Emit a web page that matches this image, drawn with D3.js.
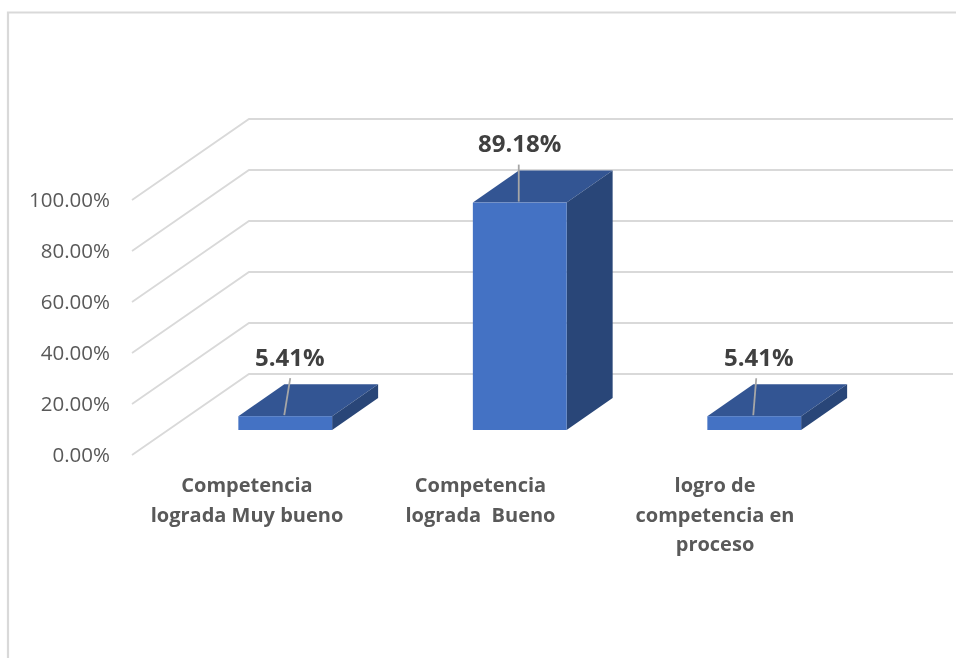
<!DOCTYPE html>
<html><head><meta charset="utf-8">
<style>html,body{margin:0;padding:0;background:#fff;overflow:hidden}svg{display:block;filter:blur(0.35px)}</style>
<script src="https://cdn.jsdelivr.net/npm/d3@7"></script></head>
<body><script>
const categories=[["Competencia","lograda Muy bueno"],["Competencia","lograda  Bueno"],["logro de","competencia en","proceso"]];
const values=[5.41,89.18,5.41];
const valueLabels=["5.41%","89.18%","5.41%"];
const ticks=[0,20,40,60,80,100];
const tickLabels=["0.00%","20.00%","40.00%","60.00%","80.00%","100.00%"];

const W=956,H=659;
const svg=d3.select("body").append("svg").attr("width",W).attr("height",H);
const font="'Open Sans',sans-serif";
svg.append("path").attr("d","M8,658V12.5H956").attr("fill","none").attr("stroke","#d9d9d9").attr("stroke-width",2.2);

const y=d3.scaleLinear().domain([0,100]).range([0,255]);
const x=d3.scaleBand().domain(d3.range(3)).range([168,871.5]).paddingInner(0.6).paddingOuter(0.3);
const backBase=374, backL=249, backR=953, frontL=132, frontBase=455;
const barBase=430, dx=46, dy=32;

svg.append("g").selectAll("path").data(ticks).join("path")
 .attr("d",t=>`M${frontL},${frontBase-y(t)}L${backL},${backBase-y(t)}H${backR}`)
 .attr("fill","none").attr("stroke","#d9d9d9").attr("stroke-width",1.8);

svg.append("g").selectAll("text").data(ticks).join("text")
 .attr("x",110).attr("y",t=>frontBase-y(t)+6.5).attr("text-anchor","end")
 .attr("font-family",font).attr("font-size",20.5).attr("fill","#595959")
 .text((t,i)=>tickLabels[i]);

const bars=svg.append("g").selectAll("g").data(values).join("g");
const xL=(d,i)=>x(i), xR=(d,i)=>x(i)+x.bandwidth(), yT=d=>barBase-y(d);
bars.append("path").attr("fill","#335593")
 .attr("d",(d,i)=>`M${xL(d,i)},${yT(d)}l${dx},${-dy}H${xR(d,i)+dx}l${-dx},${dy}Z`);
bars.append("path").attr("fill","#294678")
 .attr("d",(d,i)=>`M${xR(d,i)},${yT(d)}l${dx},${-dy}V${barBase-dy}l${-dx},${dy}Z`);
bars.append("rect").attr("fill","#4472c4")
 .attr("x",xL).attr("y",yT).attr("width",x.bandwidth()).attr("height",d=>y(d));

const cx=i=>x(i)+x.bandwidth()/2;
const lean=[6,0,3];
bars.append("line").attr("stroke","#a6a6a6").attr("stroke-width",1.8)
 .attr("x1",(d,i)=>cx(i)-1).attr("y1",d=>yT(d)-1)
 .attr("x2",(d,i)=>cx(i)-1+lean[i]).attr("y2",d=>yT(d)-38);
bars.append("text").attr("x",(d,i)=>cx(i)+(i===1?0:4.5)).attr("y",d=>yT(d)-(d>50?51:50))
 .attr("text-anchor","middle").attr("font-family",font).attr("font-weight",700)
 .attr("font-size",24).attr("fill","#404040").text((d,i)=>valueLabels[i]);

const catX=[247,480.5,715];
svg.append("g").selectAll("text").data(categories).join("text")
 .attr("font-family",font).attr("font-weight",700).attr("font-size",20).attr("fill","#595959")
 .attr("text-anchor","middle").attr("xml:space","preserve")
 .each(function(lines,i){
   d3.select(this).selectAll("tspan").data(lines).join("tspan")
    .attr("x",catX[i]).attr("y",(l,j)=>492+j*29.5).text(l=>l);
 });
</script></body></html>
